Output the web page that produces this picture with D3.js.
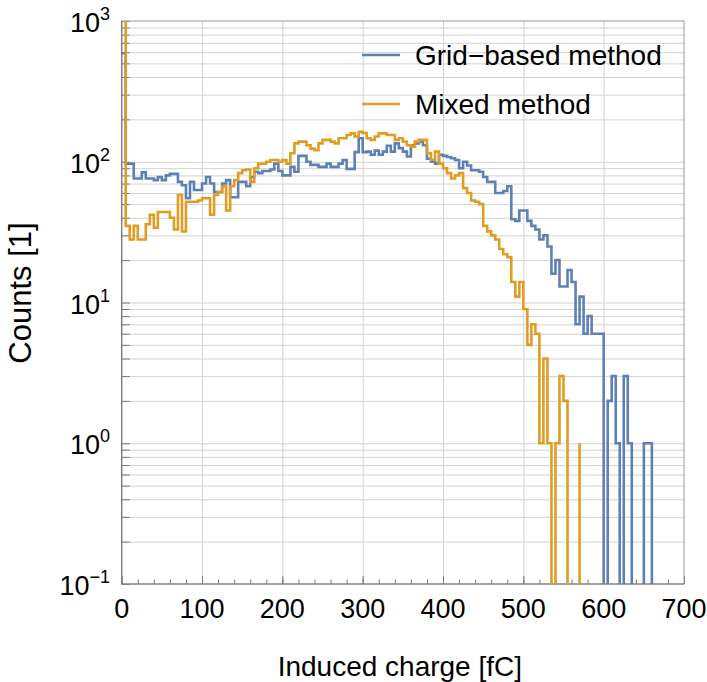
<!DOCTYPE html>
<html>
<head>
<meta charset="utf-8">
<script src="https://cdn.jsdelivr.net/npm/d3@7/dist/d3.min.js"></script>
<style>
body { margin: 0; background: #fff; }
text { font-family: "Liberation Sans", Arial, sans-serif; fill: #000; }
</style>
</head>
<body>
<svg id="chart" width="707" height="682"></svg>
<script>
// histogram counts, 5 fC bins starting at 0 (bin i covers [5i, 5i+5])
var binWidth = 5;

var gridCounts = [
	590, 97, 97, 76, 76, 84, 76, 76, 74, 78,
	74, 80, 82, 82, 72, 68, 55, 72, 63, 63,
	70, 78, 70, 61, 61, 70, 74, 56, 56, 72,
	72, 67, 78, 85, 83, 86, 86, 88, 97, 86,
	80, 80, 92, 85, 110, 110, 100, 95, 95, 92,
	92, 97, 92, 92, 97, 103, 89, 89, 117, 147,
	117, 118, 112, 120, 112, 118, 130, 118, 135, 125,
	118, 109, 131, 135, 139, 131, 105, 100, 97, 112,
	110, 108, 106, 103, 90, 100, 94, 87, 87, 85,
	78, 72, 72, 60, 60, 62, 67, 39, 38, 45,
	45, 38, 35, 33, 28, 30, 25, 16, 20, 13,
	13, 17, 14, 7, 11, 6, 8, 6, 6, 6,
	0, 2, 3, 1, 0, 3, 1, 0, 0, 0,
	1, 1, 0
];

var mixedCounts = [
	1500, 35, 28, 35, 28, 28, 36, 42, 34, 44,
	44, 44, 40, 33, 58, 32, 52, 52, 52, 53,
	55, 55, 42, 58, 61, 67, 45, 67, 74, 83,
	87, 88, 72, 90, 97, 97, 100, 103, 103, 100,
	103, 97, 115, 135, 139, 139, 131, 124, 121, 135,
	143, 143, 139, 135, 147, 147, 155, 159, 151, 163,
	160, 147, 143, 151, 159, 159, 155, 155, 143, 147,
	139, 131, 128, 139, 143, 143, 115, 103, 118, 97,
	90, 83, 76, 80, 83, 65, 60, 53, 52, 50,
	35, 32, 30, 28, 24, 22, 21, 14, 11, 14,
	9, 5, 7, 6, 1, 4, 1, 0, 1, 3,
	2, 0, 0, 0, 1
];

var seriesNames = ["Grid\u2212based method", "Mixed method"];
var seriesColors = ["#5e81b5", "#e19c24"];

var xTicks = [0, 100, 200, 300, 400, 500, 600, 700];
var yDecades = [0.1, 1, 10, 100, 1000];
var yExponents = ["\u22121", "0", "1", "2", "3"];

var svg = d3.select("#chart");
var pLeft = 121.7, pRight = 684, pTop = 21, pBottom = 584;

var x = d3.scaleLinear().domain([0, 700]).range([pLeft, pRight]);
var y = d3.scaleLog().domain([0.1, 1000]).range([pBottom, pTop]);

var xMinor = d3.range(0, 701, 20);
var yMinor = [];
yDecades.forEach(function (d) {
	if (d < 1000) d3.range(1, 10).forEach(function (m) { yMinor.push(d * m); });
});
yMinor.push(1000);

svg.append("clipPath").attr("id", "plotclip")
	.append("rect")
	.attr("x", pLeft).attr("y", pTop)
	.attr("width", pRight - pLeft).attr("height", pBottom - pTop);

// gridlines
svg.append("g")
	.attr("transform", "translate(0," + pBottom + ")")
	.call(d3.axisBottom(x).tickValues(xTicks.slice(1, -1)).tickSize(-(pBottom - pTop)).tickFormat(""))
	.call(function (g) { g.select(".domain").remove(); })
	.selectAll("line").attr("stroke", "#d2d2d2").attr("stroke-width", 1);

svg.append("g")
	.attr("transform", "translate(" + pLeft + ",0)")
	.call(d3.axisLeft(y).tickValues(yMinor.slice(1, -1)).tickSize(-(pRight - pLeft)).tickFormat(""))
	.call(function (g) { g.select(".domain").remove(); })
	.selectAll("line").attr("stroke", "#d2d2d2").attr("stroke-width", 1);

// ticks pointing inward
svg.append("g")
	.attr("transform", "translate(0," + pBottom + ")")
	.call(d3.axisBottom(x).tickValues(xMinor).tickSize(-4.5).tickFormat(""))
	.call(function (g) { g.select(".domain").remove(); })
	.selectAll("line").attr("stroke", "#777");

svg.append("g")
	.attr("transform", "translate(0," + pBottom + ")")
	.call(d3.axisBottom(x).tickValues(xTicks).tickSize(-8).tickFormat(""))
	.call(function (g) { g.select(".domain").remove(); })
	.selectAll("line").attr("stroke", "#777");

svg.append("g")
	.attr("transform", "translate(" + pLeft + ",0)")
	.call(d3.axisLeft(y).tickValues(yMinor).tickSize(-8).tickFormat(""))
	.call(function (g) { g.select(".domain").remove(); })
	.selectAll("line").attr("stroke", "#777");

// frame
svg.append("rect")
	.attr("x", pLeft).attr("y", pTop)
	.attr("width", pRight - pLeft).attr("height", pBottom - pTop)
	.attr("fill", "none").attr("stroke", "#9a9a9a").attr("stroke-width", 1);
svg.append("path")
	.attr("d", "M" + pLeft + "," + pTop + "V" + pBottom + "H" + pRight)
	.attr("fill", "none").attr("stroke", "#777").attr("stroke-width", 1.2);

// tick labels
svg.append("g").selectAll("text")
	.data(xTicks)
	.enter().append("text")
	.attr("x", function (d) { return x(d); })
	.attr("y", 618)
	.attr("text-anchor", "middle")
	.style("font-size", "27px")
	.text(function (d) { return d; });

var yLab = svg.append("g").selectAll("text")
	.data(yDecades)
	.enter().append("text")
	.attr("x", 110)
	.attr("y", function (d) { return y(d) + 11; })
	.attr("text-anchor", "end")
	.style("font-size", "27px");
yLab.append("tspan").text("10");
yLab.append("tspan")
	.attr("dy", -12)
	.style("font-size", "18px")
	.text(function (d, i) { return yExponents[i]; });

// axis titles
svg.append("text")
	.attr("x", (pLeft + pRight) / 2 - 3)
	.attr("y", 676)
	.attr("text-anchor", "middle")
	.style("font-size", "28px")
	.text("Induced charge [fC]");

svg.append("text")
	.attr("transform", "translate(31," + 293 + ") rotate(-90)")
	.attr("text-anchor", "middle")
	.style("font-size", "31px")
	.text("Counts [1]");

// step histograms
var step = d3.line()
	.x(function (d, i) { return x(i * binWidth); })
	.y(function (d) { return y(Math.max(d, 0.01)); })
	.curve(d3.curveStepAfter);

var plot = svg.append("g").attr("clip-path", "url(#plotclip)");
[gridCounts, mixedCounts].forEach(function (counts, k) {
	plot.append("path")
		.attr("d", step(counts))
		.attr("fill", "none")
		.attr("stroke", seriesColors[k])
		.attr("stroke-width", 2.6);
});

// legend
var legend = svg.append("g").selectAll("g")
	.data(seriesNames)
	.enter().append("g")
	.attr("transform", function (d, i) { return "translate(0," + (55 + i * 49) + ")"; });
legend.append("line")
	.attr("x1", 362).attr("x2", 400)
	.attr("stroke", function (d, i) { return seriesColors[i]; })
	.attr("stroke-width", 2.6);
legend.append("text")
	.attr("x", 415).attr("y", 10)
	.style("font-size", "28px")
	.text(function (d) { return d; });
</script>
</body>
</html>
